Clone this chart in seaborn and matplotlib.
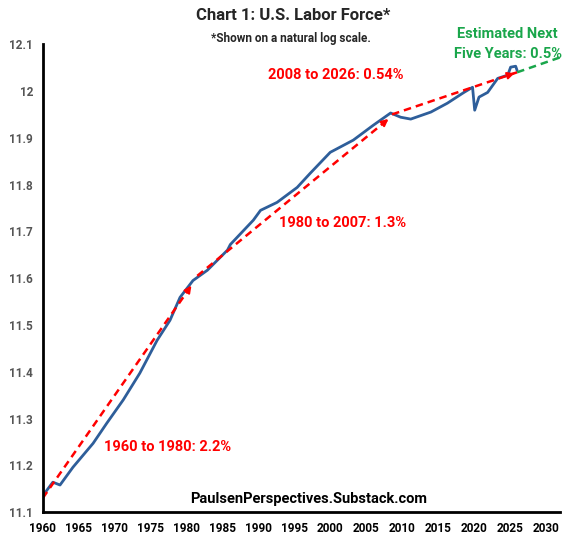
import matplotlib
matplotlib.use("Agg")
import matplotlib.pyplot as plt
import seaborn as sns
import pandas as pd

years = [1960,1961.4,1962.4,1964.2,1967,1968.9,1971.2,1973.5,1975.9,1977.7,1979.1,1980.9,1982.9,1985.7,1986.1,
         1989.3,1990.3,1992.6,1995.4,1997.2,2000,2003.2,2006,2008.4,2009.8,2011.2,2014,2016.3,2018.6,2019.8,
         2020.1,2020.7,2021.9,2023.3,2024.7,2025.1,2025.8,2026]
log_lf = [11.135,11.164,11.158,11.196,11.247,11.29,11.34,11.397,11.467,11.51,11.559,11.595,11.617,11.66,11.672,
          11.724,11.745,11.762,11.794,11.824,11.869,11.895,11.927,11.953,11.944,11.94,11.955,11.974,11.997,12.008,
          11.959,11.987,11.997,12.027,12.034,12.051,12.053,12.044]
trend_segments = [((1960,11.13),(1980.9,11.589)),((1981.5,11.605),(2008.4,11.944)),((2008.6,11.95),(2026,12.04))]
proj_segment = ((2026,12.04),(2032,12.072))

sns.set_style("white")
plt.rcParams['font.family'] = ['Roboto', 'DejaVu Sans']
fig = plt.figure(figsize=(5.86,5.46), dpi=100)
ax = fig.add_axes([0.073,0.062,0.883,0.857])
df = pd.DataFrame({"year":years,"v":log_lf})
sns.lineplot(data=df,x="year",y="v",ax=ax,color="#2e5e9a",lw=2)
for (x0,y0),(x1,y1) in trend_segments:
    ax.plot([x0,x1],[y0,y1],color="red",ls=(0,(3,2)),lw=1.8)
    ax.annotate("",xy=(x1,y1),xytext=(x1-(x1-x0)*0.05,y1-(y1-y0)*0.05),
                arrowprops=dict(arrowstyle="-|>",color="red",lw=1.5,mutation_scale=10))
(x0,y0),(x1,y1)=proj_segment
ax.plot([x0,x1],[y0,y1],color="#1aa64b",ls=(0,(3,2)),lw=1.8,clip_on=False)

ax.set_xlim(1960,2032); ax.set_ylim(11.1,12.1)
ax.set_xticks(range(1960,2031,5))
ax.set_yticks([11.1,11.2,11.3,11.4,11.5,11.6,11.7,11.8,11.9,12,12.1])
ax.set_yticklabels(["11.1","11.2","11.3","11.4","11.5","11.6","11.7","11.8","11.9","12","12.1"])
for s in ["top","right"]: ax.spines[s].set_visible(False)
for s in ["left","bottom"]: ax.spines[s].set_linewidth(2); ax.spines[s].set_color("black")
ax.tick_params(direction="inout",length=8,width=1.5,colors="black",pad=3)
for t in ax.get_xticklabels(): t.set_fontweight("bold"); t.set_fontsize(8.5)
for t in ax.get_yticklabels(): t.set_fontweight("bold"); t.set_fontsize(8.5); t.set_color("#555555")
ax.set_xlabel(""); ax.set_ylabel("")

fig.text(0.5,0.972,"Chart 1: U.S. Labor Force*",ha="center",va="center",fontsize=12,fontweight="bold")
fig.text(0.497,0.93,"*Shown on a natural log scale.",ha="center",va="center",fontsize=8.5,fontweight="bold")
kw = dict(fontsize=10.5,fontweight="bold",ha="center",va="center",clip_on=False)
ax.text(2000.8,12.034,"2008 to 2026: 0.54%",color="red",**kw)
ax.text(2024.7,12.121,"Estimated Next",color="#1aa64b",**kw)
ax.text(2024.7,12.079,"Five Years: 0.5%",color="#1aa64b",**kw)
ax.text(2001.7,11.717,"1980 to 2007: 1.3%",color="red",**kw)
ax.text(1977.3,11.239,"1960 to 1980: 2.2%",color="red",**kw)
ax.text(1997,11.128,"PaulsenPerspectives.Substack.com",color="black",**kw)
fig.savefig("out.png",dpi=100)
